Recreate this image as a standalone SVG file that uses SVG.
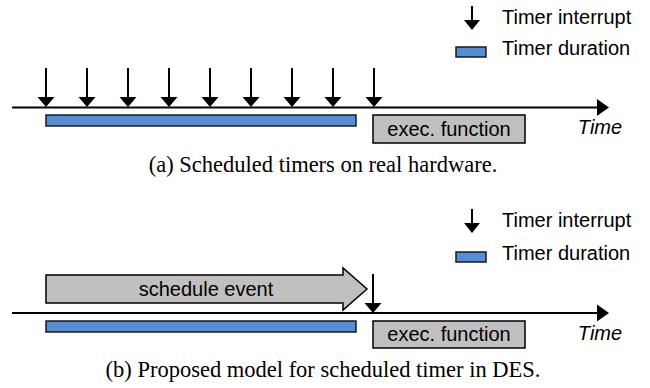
<svg xmlns="http://www.w3.org/2000/svg" xmlns:xlink="http://www.w3.org/1999/xlink" width="650" height="388" viewBox="0 0 650 388">
<style>
.sans{font-family:"Liberation Sans",Arial,sans-serif;font-size:20px;fill:#000}
.serif{font-family:"Liberation Serif","Times New Roman",serif;font-size:22.5px;fill:#000}
.axis{stroke:#000;stroke-width:2;fill:none}
.bar{fill:#558ed5;stroke:#1a1a1a;stroke-width:1.5}
.box{fill:#c0c0c0;stroke:#000;stroke-width:1.5}
</style>
<defs>
<g id="darr">
<line x1="0" y1="-39" x2="0" y2="-9" stroke="#000" stroke-width="2"/>
<polygon points="-8.5,-10 8.5,-10 0,0" fill="#000"/>
</g>
<g id="darrS">
<line x1="0" y1="-24" x2="0" y2="-9" stroke="#000" stroke-width="2"/>
<polygon points="-8,-10 8,-10 0,0" fill="#000"/>
</g>
</defs>

<!-- Panel (a) -->
<g id="legend-a">
<use xlink:href="#darrS" x="472" y="30"/>
<text class="sans" x="502" y="24">Timer interrupt</text>
<rect class="bar" x="456" y="47" width="30" height="10"/>
<text class="sans" x="502" y="55">Timer duration</text>
</g>
<g id="axis-a">
<line class="axis" x1="12" y1="107.5" x2="599" y2="107.5"/>
<polygon points="597,99 609,107.5 597,116" fill="#000"/>
<text class="sans" x="600" y="134" text-anchor="middle" font-style="italic">Time</text>
</g>
<g id="connectors-a">
<use xlink:href="#darr" x="46" y="107"/>
<use xlink:href="#darr" x="87" y="107"/>
<use xlink:href="#darr" x="128" y="107"/>
<use xlink:href="#darr" x="169" y="107"/>
<use xlink:href="#darr" x="210" y="107"/>
<use xlink:href="#darr" x="251" y="107"/>
<use xlink:href="#darr" x="292" y="107"/>
<use xlink:href="#darr" x="333" y="107"/>
<use xlink:href="#darr" x="374" y="107"/>
</g>
<g id="timer-a">
<rect class="bar" x="46" y="115" width="310" height="11"/>
</g>
<g id="exec-a">
<rect class="box" x="373" y="115" width="152" height="28"/>
<text class="sans" x="449" y="136" text-anchor="middle">exec. function</text>
</g>
<text class="serif" x="323" y="172" text-anchor="middle">(a) Scheduled timers on real hardware.</text>

<!-- Panel (b) -->
<g id="legend-b">
<use xlink:href="#darrS" x="472" y="233"/>
<text class="sans" x="502" y="227">Timer interrupt</text>
<rect class="bar" x="456" y="252" width="30" height="10"/>
<text class="sans" x="502" y="260">Timer duration</text>
</g>
<g id="axis-b">
<line class="axis" x1="12" y1="313" x2="599" y2="313"/>
<polygon points="597,304.5 609,313 597,321.5" fill="#000"/>
<text class="sans" x="600" y="340" text-anchor="middle" font-style="italic">Time</text>
</g>
<g id="schedule-event">
<path class="box" stroke-width="2" d="M46,275 H343 V268 L367,289 L343,310 V303 H46 Z"/>
<text class="sans" x="206" y="296" text-anchor="middle">schedule event</text>
</g>
<g id="connectors-b">
<use xlink:href="#darr" x="373" y="313"/>
</g>
<g id="timer-b">
<rect class="bar" x="46" y="321" width="310" height="11"/>
</g>
<g id="exec-b">
<rect class="box" x="373" y="321" width="152" height="27"/>
<text class="sans" x="449" y="341" text-anchor="middle">exec. function</text>
</g>
<text class="serif" x="323" y="377" text-anchor="middle">(b) Proposed model for scheduled timer in DES.</text>
</svg>
